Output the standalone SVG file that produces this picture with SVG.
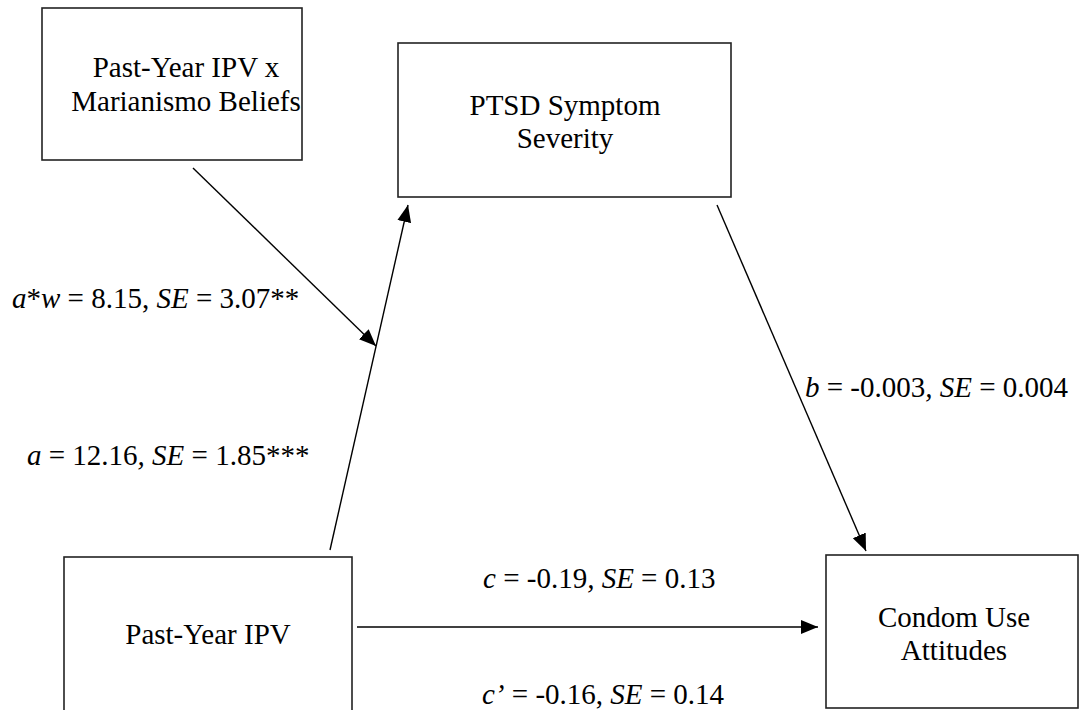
<svg xmlns="http://www.w3.org/2000/svg" width="1079" height="710" viewBox="0 0 1079 710">
  <style>
    .box { fill: #ffffff; stroke: #222222; stroke-width: 1.6; }
    .lbl { font-family: "Liberation Serif", "Times New Roman", serif; font-size: 29px; fill: #000000; }
    .ctr { text-anchor: middle; }
    .it { font-style: italic; }
    .edge { stroke: #000000; stroke-width: 1.4; fill: none; marker-end: url(#head); }
  </style>
  <defs>
    <marker id="head" markerUnits="userSpaceOnUse" markerWidth="18" markerHeight="16" viewBox="0 0 18 16" refX="17" refY="8" orient="auto">
      <path d="M0,1 L17,8 L0,15 Z" fill="#000000"/>
    </marker>
  </defs>
  <rect width="1079" height="710" fill="#ffffff"/>

  <g id="node-interaction">
    <rect class="box" x="42" y="8" width="260" height="152"/>
    <text class="lbl ctr" x="186" y="77">Past-Year IPV x</text>
    <text class="lbl ctr" x="186" y="111">Marianismo Beliefs</text>
  </g>

  <g id="node-ptsd">
    <rect class="box" x="398" y="43" width="333" height="154"/>
    <text class="lbl ctr" x="565" y="115">PTSD Symptom</text>
    <text class="lbl ctr" x="565" y="148">Severity</text>
  </g>

  <g id="node-ipv">
    <rect class="box" x="64" y="557" width="288" height="170"/>
    <text class="lbl ctr" x="208" y="644">Past-Year IPV</text>
  </g>

  <g id="node-condom">
    <rect class="box" x="826" y="555" width="252" height="153"/>
    <text class="lbl ctr" x="954" y="627">Condom Use</text>
    <text class="lbl ctr" x="954" y="660">Attitudes</text>
  </g>

  <g id="connectors">
    <line class="edge" x1="330" y1="550" x2="408" y2="205"/>
    <line class="edge" x1="193" y1="168" x2="376" y2="346"/>
    <line class="edge" x1="717" y1="205" x2="866" y2="551"/>
    <line class="edge" x1="357" y1="627" x2="818" y2="627"/>
  </g>

  <g id="labels">
    <text class="lbl" x="12" y="308"><tspan class="it">a</tspan>*<tspan class="it">w</tspan> = 8.15, <tspan class="it">SE</tspan> = 3.07**</text>
    <text class="lbl" x="27" y="465"><tspan class="it">a</tspan> = 12.16<tspan class="it">,</tspan> <tspan class="it">SE</tspan> = 1.85***</text>
    <text class="lbl" x="805" y="397"><tspan class="it">b</tspan> = -0.003<tspan class="it">,</tspan> <tspan class="it">SE</tspan> = 0.004</text>
    <text class="lbl" x="483" y="588"><tspan class="it">c</tspan> = -0.19<tspan class="it">,</tspan> <tspan class="it">SE</tspan> = 0.13</text>
    <text class="lbl" x="482" y="704"><tspan class="it">c’</tspan> = -0.16, <tspan class="it">SE</tspan> = 0.14</text>
  </g>
</svg>
